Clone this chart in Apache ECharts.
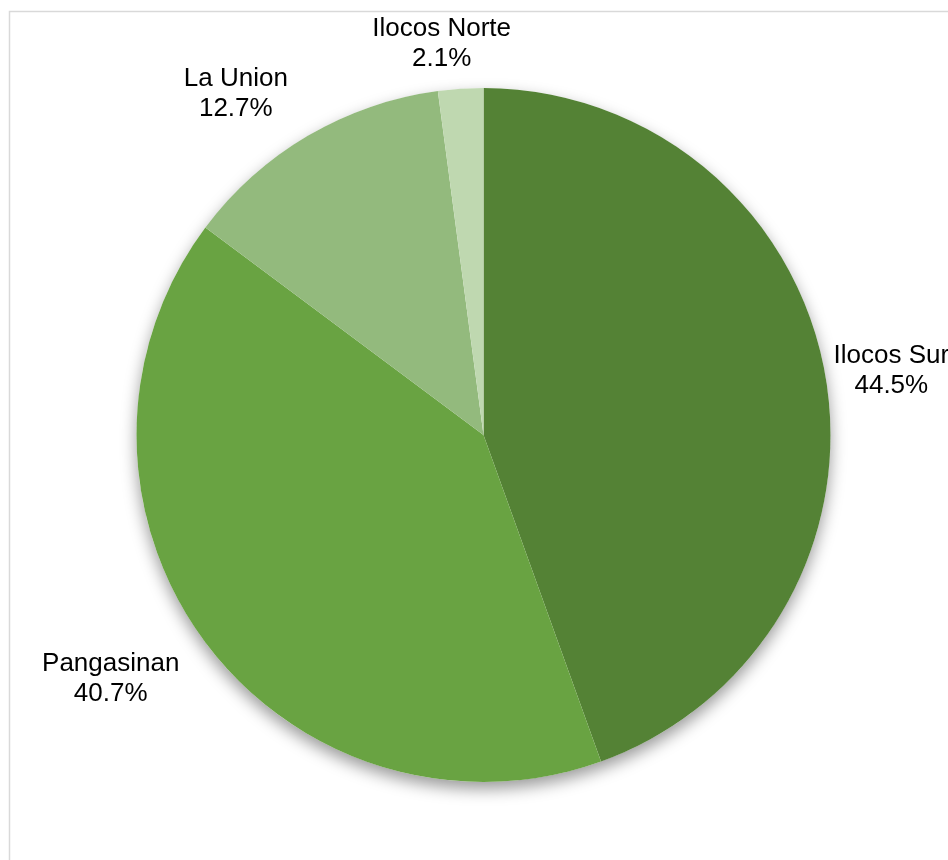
<!DOCTYPE html>
<html>
<head>
<meta charset="utf-8">
<script src="https://cdn.jsdelivr.net/npm/echarts@6/dist/echarts.min.js"></script>
<style>
  html, body { margin: 0; padding: 0; background: #ffffff; }
  #chart { width: 948px; height: 860px; }
</style>
</head>
<body>
<div id="chart"></div>
<script>
// ---- data ----
const categories = ['Ilocos Sur', 'Pangasinan', 'La Union', 'Ilocos Norte'];
const shares = [44.5, 40.7, 12.7, 2.1];

// ---- style ----
const sliceColors = ['#548235', '#69A342', '#93BA7D', '#BFD8B0'];
// label centre offset from the slice's outer-edge mid point (px)
const labelOffsets = [[66, -5], [-94, 37], [-72, -42], [-19, -45]];

const PIE_CENTER = [483.5, 435];
const PIE_RADIUS = 347;

const chart = echarts.init(document.getElementById('chart'), null, { renderer: 'canvas' });

const option = {
  backgroundColor: '#ffffff',
  animation: false,
  graphic: [{
    type: 'rect',
    silent: true,
    z: -10,
    shape: { x: 9.5, y: 11.5, width: 1000, height: 900 },
    style: { fill: 'none', stroke: '#D9D9D9', lineWidth: 1.5 }
  }],
  series: [
    {
      // soft shadow underneath the whole pie
      type: 'pie',
      silent: true,
      z: 1,
      center: PIE_CENTER,
      radius: PIE_RADIUS,
      label: { show: false },
      labelLine: { show: false },
      itemStyle: {
        color: '#ffffff',
        shadowBlur: 16,
        shadowOffsetY: 7,
        shadowColor: 'rgba(0,0,0,0.4)'
      },
      data: [{ value: 1, name: '' }]
    },
    {
      type: 'pie',
      z: 2,
      center: PIE_CENTER,
      radius: PIE_RADIUS,
      startAngle: 90,
      clockwise: true,
      avoidLabelOverlap: false,
      itemStyle: { borderWidth: 0 },
      label: {
        show: true,
        position: 'outside',
        overflow: 'none',
        fontFamily: 'Liberation Sans, Arial, sans-serif',
        fontSize: 26,
        lineHeight: 30,
        color: '#000000',
        formatter: function (p) {
          return p.name + '\n' + p.value.toFixed(1) + '%';
        }
      },
      labelLine: {
        show: true,
        length: 10,
        length2: 0,
        lineStyle: { width: 0, opacity: 0 }
      },
      labelLayout: function (p) {
        const off = labelOffsets[p.dataIndex];
        const pts = p.labelLinePoints;
        if (pts && pts[0]) {
          return {
            x: pts[0][0] + off[0],
            y: pts[0][1] + off[1],
            align: 'center',
            verticalAlign: 'middle'
          };
        }
        return { align: 'center', verticalAlign: 'middle' };
      },
      data: categories.map(function (c, i) {
        return { name: c, value: shares[i], itemStyle: { color: sliceColors[i] } };
      })
    }
  ]
};

chart.setOption(option);
</script>
</body>
</html>
